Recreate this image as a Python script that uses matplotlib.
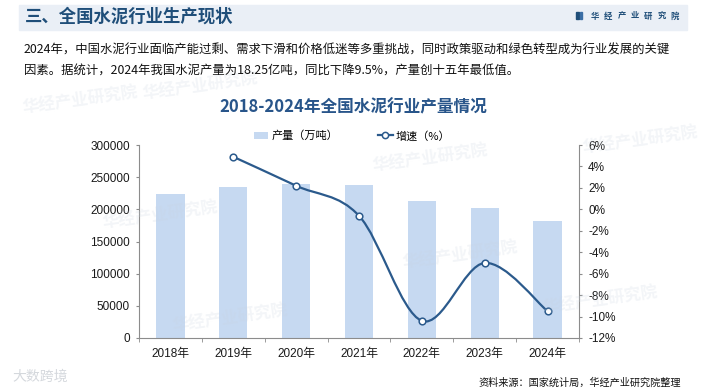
import numpy as np
import matplotlib
matplotlib.use("Agg")
import matplotlib.pyplot as plt
from matplotlib.path import Path
from matplotlib.patches import PathPatch, Rectangle, Patch
from matplotlib.lines import Line2D
from matplotlib.ticker import FuncFormatter, FixedLocator

plt.rcParams["font.family"] = ["Liberation Sans", "Noto Sans CJK SC"]
CJK = ["Noto Sans CJK SC", "DejaVu Sans"]

# data
years = ["2018年", "2019年", "2020年", "2021年", "2022年", "2023年", "2024年"]
output = [223600, 235000, 239500, 238000, 213000, 202300, 182500]   # 万吨
growth_years = [1, 2, 3, 4, 5, 6]                                    # index into years (2019-2024)
growth = [4.9, 2.2, -0.6, -10.4, -5.0, -9.5]                         # %

title_color = "#1f4e79"
bar_color = "#c6d9f1"
line_color = "#2b5a8c"
axis_color = "#8c8c8c"

fig = plt.figure(figsize=(7.05, 3.92), dpi=100)
fig.patch.set_facecolor("white")

# header band
fig.patches.append(Rectangle((19 / 705, 1 - 30 / 392), 668 / 705, 25 / 392,
                             transform=fig.transFigure, color="#eaeff6", zorder=0))
fig.text(25 / 705, 1 - 17 / 392, "三、全国水泥行业生产现状", family=CJK, fontsize=12.5,
         fontweight="bold", color=title_color, va="center", ha="left")

# logo on the right
fig.patches.append(Rectangle((576 / 705, 1 - 19 / 392), 2.5 / 705, 7 / 392,
                             transform=fig.transFigure, color=title_color))
fig.patches.append(Rectangle((579.5 / 705, 1 - 19 / 392), 2.5 / 705, 7 / 392,
                             transform=fig.transFigure, color="#3b6ea5"))
for i, ch in enumerate("华经产业研究院"):
    fig.text((595 + i * 13.3) / 705, 1 - 16 / 392, ch, family=CJK, fontsize=6,
             fontweight="bold", color=title_color, ha="center", va="center")

# paragraph
fig.text(24 / 705, 1 - 50 / 392,
         "2024年，中国水泥行业面临产能过剩、需求下滑和价格低迷等多重挑战，同时政策驱动和绿色转型成为行业发展的关键",
         family=CJK, fontsize=8.9, color="#111111", va="center", ha="left")
fig.text(24 / 705, 1 - 71 / 392,
         "因素。据统计，2024年我国水泥产量为18.25亿吨，同比下降9.5%，产量创十五年最低值。",
         family=CJK, fontsize=8.9, color="#111111", va="center", ha="left")

# chart title
fig.text(353 / 705, 1 - 107 / 392, "2018-2024年全国水泥行业产量情况", family=CJK,
         fontsize=12, fontweight="bold", color="#28558a", ha="center", va="center")

# faint watermarks
for (wx, wy) in [(200, 86), (80, 100), (160, 215), (430, 158), (460, 255),
                 (600, 300), (230, 318), (640, 140)]:
    fig.text(wx / 705, 1 - wy / 392, "华经产业研究院", family=CJK, fontsize=12,
             fontweight="bold", color="#c9d3df", alpha=0.22, rotation=8,
             ha="center", va="center", zorder=0)
fig.text(40 / 705, 1 - 377 / 392, "大数跨境", family=CJK, fontsize=10,
         color="#b8bec6", alpha=0.6, ha="center", va="center")

# source
fig.text(681 / 705, 1 - 383 / 392, "资料来源：国家统计局，华经产业研究院整理", family=CJK,
         fontsize=7.3, color="#111111", ha="right", va="center")

# axes
ax = fig.add_axes([139 / 705, 1 - 338 / 392, 440 / 705, 193 / 392])
ax.set_facecolor("none")
x = np.arange(len(years))
ax.bar(x, output, width=0.45, color=bar_color, zorder=2)
ax.set_xlim(-0.5, len(years) - 0.5)
ax.set_ylim(0, 300000)
ax.set_yticks(np.arange(0, 300001, 50000))
ax.yaxis.set_major_formatter(FuncFormatter(lambda v, p: f"{int(v)}"))
ax.set_xticks(x)
ax.set_xticklabels(years)
ax.xaxis.set_minor_locator(FixedLocator(np.arange(-0.5, len(years), 1.0)))
ax.tick_params(axis="x", which="major", length=0, pad=7, labelsize=8.5, colors="#1a1a1a")
ax.tick_params(axis="x", which="minor", length=3, color=axis_color, direction="out")
ax.tick_params(axis="y", length=2.5, pad=4, labelsize=8.5, color=axis_color, labelcolor="#1a1a1a")
for s in ["top", "right"]:
    ax.spines[s].set_visible(False)
for s in ["left", "bottom"]:
    ax.spines[s].set_color(axis_color)
    ax.spines[s].set_linewidth(0.8)

ax2 = ax.twinx()
ax2.set_ylim(-12, 6)
ax2.set_yticks(np.arange(-12, 7, 2))
ax2.yaxis.set_major_formatter(FuncFormatter(lambda v, p: f"{int(v)}%"))
ax2.tick_params(axis="y", length=2.5, pad=4, labelsize=8.5, color=axis_color, labelcolor="#1a1a1a")
for s in ["top", "left", "bottom"]:
    ax2.spines[s].set_visible(False)
ax2.spines["right"].set_color(axis_color)
ax2.spines["right"].set_linewidth(0.8)

# smoothed line (Catmull-Rom style bezier like Excel)
gx = np.array(growth_years, dtype=float)
gy = np.array(growth, dtype=float)
pts = np.column_stack([gx, gy])
verts = [tuple(pts[0])]
codes = [Path.MOVETO]
n = len(pts)
for i in range(n - 1):
    p0 = pts[i - 1] if i > 0 else pts[i]
    p1 = pts[i]
    p2 = pts[i + 1]
    p3 = pts[i + 2] if i + 2 < n else pts[i + 1]
    c1 = p1 + (p2 - p0) / 6
    c2 = p2 - (p3 - p1) / 6
    verts += [tuple(c1), tuple(c2), tuple(p2)]
    codes += [Path.CURVE4] * 3
ax2.add_patch(PathPatch(Path(verts, codes), facecolor="none", edgecolor=line_color,
                        linewidth=1.6, zorder=3))
ax2.plot(gx, gy, linestyle="none", marker="o", markersize=4.8, markerfacecolor="white",
         markeredgecolor=line_color, markeredgewidth=1.1, zorder=4)

# legend
handles = [Patch(facecolor=bar_color, edgecolor="none"),
           Line2D([0], [0], color=line_color, linewidth=1.6, marker="o", markersize=4.5,
                  markerfacecolor="white", markeredgecolor=line_color, markeredgewidth=1.1)]
fig.legend(handles, ["产量（万吨）", "增速（%）"], loc="center", ncol=2, frameon=False,
           bbox_to_anchor=(352 / 705, 1 - 136 / 392), prop={"family": CJK, "size": 8},
           handlelength=1.3, handleheight=0.7, handletextpad=0.3, columnspacing=3.6)

fig.savefig("out.png", dpi=100)
